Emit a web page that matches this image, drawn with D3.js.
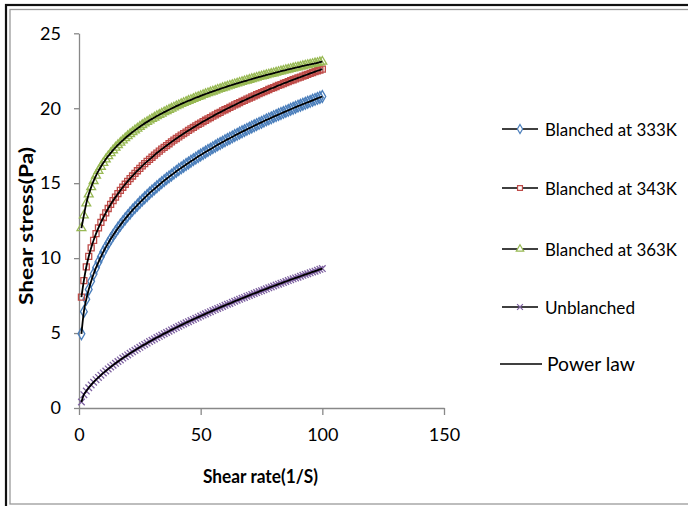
<!DOCTYPE html>
<html><head><meta charset="utf-8">
<script src="https://cdn.jsdelivr.net/npm/d3@7"></script>
<style>body{margin:0;background:#fff}svg{display:block}</style>
</head><body><svg id="c" width="688" height="506"></svg>
<script>
const shearRate = [1,2,3,4,5,6,7,8,9,10,11,12,13,14,15,16,17,18,19,20,21,22,23,24,25,26,27,28,29,30,31,32,33,34,35,36,37,38,39,40,41,42,43,44,45,46,47,48,49,50,51,52,53,54,55,56,57,58,59,60,61,62,63,64,65,66,67,68,69,70,71,72,73,74,75,76,77,78,79,80,81,82,83,84,85,86,87,88,89,90,91,92,93,94,95,96,97,98,99,100];
const blanched333 = [4.95,6.43,7.26,7.91,8.46,8.94,9.36,9.74,10.09,10.42,
10.72,11.00,11.27,11.52,11.76,11.99,12.21,12.42,12.63,12.82,
13.01,13.20,13.37,13.54,13.71,13.87,14.03,14.18,14.34,14.48,
14.62,14.76,14.90,15.04,15.17,15.30,15.42,15.54,15.67,15.79,
15.91,16.02,16.13,16.25,16.35,16.46,16.57,16.67,16.78,16.88,
16.98,17.08,17.18,17.27,17.37,17.46,17.56,17.65,17.74,17.83,
17.92,18.00,18.09,18.18,18.26,18.35,18.43,18.51,18.59,18.67,
18.75,18.83,18.91,18.99,19.06,19.14,19.22,19.29,19.36,19.44,
19.51,19.58,19.65,19.72,19.79,19.86,19.93,20.00,20.07,20.14,
20.20,20.27,20.33,20.40,20.46,20.53,20.59,20.66,20.72,20.78];
const blanched343 = [7.40,8.50,9.41,10.11,10.69,11.19,11.63,12.02,12.38,12.71,
13.02,13.31,13.58,13.83,14.07,14.30,14.52,14.73,14.93,15.12,
15.31,15.48,15.66,15.83,15.99,16.15,16.30,16.45,16.59,16.73,
16.87,17.01,17.14,17.27,17.39,17.51,17.63,17.75,17.87,17.98,
18.09,18.20,18.31,18.41,18.52,18.62,18.72,18.82,18.92,19.01,
19.11,19.20,19.29,19.38,19.47,19.56,19.65,19.73,19.82,19.90,
19.98,20.06,20.14,20.22,20.30,20.38,20.46,20.53,20.61,20.68,
20.75,20.83,20.90,20.97,21.04,21.11,21.18,21.25,21.32,21.38,
21.45,21.52,21.58,21.65,21.71,21.77,21.84,21.90,21.96,22.02,
22.08,22.14,22.20,22.26,22.32,22.38,22.44,22.50,22.55,22.61];
const blanched363 = [12.00,12.85,13.65,14.26,14.74,15.15,15.51,15.82,16.10,16.36,
16.59,16.81,17.01,17.20,17.38,17.55,17.71,17.86,18.01,18.15,
18.28,18.41,18.53,18.65,18.77,18.88,18.99,19.09,19.19,19.29,
19.38,19.48,19.57,19.65,19.74,19.82,19.90,19.98,20.06,20.14,
20.21,20.29,20.36,20.43,20.50,20.56,20.63,20.70,20.76,20.82,
20.89,20.95,21.01,21.07,21.12,21.18,21.24,21.29,21.35,21.40,
21.46,21.51,21.56,21.61,21.66,21.71,21.76,21.81,21.85,21.90,
21.95,21.99,22.04,22.09,22.13,22.17,22.22,22.26,22.30,22.34,
22.39,22.43,22.47,22.51,22.55,22.59,22.63,22.67,22.71,22.74,
22.78,22.82,22.86,22.89,22.93,22.96,23.00,23.03,23.07,23.11];
const unblanched = [0.40,0.89,1.13,1.35,1.54,1.72,1.89,2.04,2.19,2.34,
2.47,2.61,2.74,2.86,2.98,3.10,3.21,3.33,3.43,3.54,
3.65,3.75,3.85,3.95,4.05,4.15,4.24,4.33,4.43,4.52,
4.61,4.70,4.78,4.87,4.96,5.04,5.12,5.21,5.29,5.37,
5.45,5.53,5.61,5.69,5.76,5.84,5.91,5.99,6.06,6.14,
6.21,6.28,6.36,6.43,6.50,6.57,6.64,6.71,6.78,6.85,
6.92,6.98,7.05,7.12,7.19,7.25,7.32,7.38,7.45,7.51,
7.58,7.64,7.70,7.77,7.83,7.89,7.95,8.02,8.08,8.14,
8.20,8.26,8.32,8.38,8.44,8.50,8.56,8.62,8.68,8.73,
8.79,8.85,8.91,8.96,9.02,9.08,9.13,9.19,9.25,9.30];
const seriesNames = ["Blanched at 333K","Blanched at 343K","Blanched at 363K","Unblanched"];
const powerLawName = "Power law";
const xTicks = [0,50,100,150];
const yTicks = [0,5,10,15,20,25];
const xTitle = "Shear rate(1/S)";
const yTitle = "Shear stress(Pa)";

const seriesData = [blanched333, blanched343, blanched363, unblanched];
const colors = ["#4a7ebb","#be4b48","#98b954","#7d60a0"];
const symbols = [d3.symbolDiamond, d3.symbolSquare, d3.symbolTriangle, d3.symbolX || d3.symbolCross];
const symSizes = [40, 36, 34, 30];
const FONT = "Lato,Carlito,'Open Sans',sans-serif";

const svg = d3.select("#c");
svg.append("rect").attr("x",0).attr("y",0).attr("width",688).attr("height",506).attr("fill","#fff");
// outer black frame and inner gray frame
svg.append("rect").attr("x",6).attr("y",5).attr("width",700).attr("height",520)
  .attr("fill","none").attr("stroke","#111").attr("stroke-width",2.2);
svg.append("rect").attr("x",10).attr("y",9.5).attr("width",690).attr("height",494.5)
  .attr("fill","none").attr("stroke","#9a9a9a").attr("stroke-width",1.3);

const x = d3.scaleLinear().domain([0,150]).range([79,444]);
const y = d3.scaleLinear().domain([0,25]).range([408,33.3]);

const axisColor = "#888";
const gx = svg.append("g").attr("transform","translate(0,408)")
  .call(d3.axisBottom(x).tickValues(xTicks).tickSize(7).tickSizeOuter(0).tickPadding(13));
const gy = svg.append("g").attr("transform","translate(79,0)")
  .call(d3.axisLeft(y).tickValues(yTicks).tickSize(5).tickSizeOuter(0).tickPadding(13));
[gx,gy].forEach(g=>{
  g.select(".domain").attr("stroke",axisColor).attr("stroke-width",1.3);
  g.selectAll(".tick line").attr("stroke",axisColor).attr("stroke-width",1.3);
  g.selectAll(".tick text").attr("fill","#000").style("font-family",FONT).style("font-size","18px");
});

// markers
seriesData.forEach((vals,i)=>{
  const sym = d3.symbol().type(symbols[i]).size(symSizes[i]);
  svg.append("g").selectAll("path").data(vals).join("path")
    .attr("d", sym)
    .attr("transform",(d,j)=>`translate(${x(shearRate[j])},${y(d)})`)
    .attr("fill","none").attr("stroke",colors[i]).attr("stroke-width",1.3);
});
// power-law / series lines
const line = d3.line().x((d,j)=>x(shearRate[j])).y(d=>y(d)).curve(d3.curveMonotoneX);
seriesData.forEach(vals=>{
  svg.append("path").datum(vals).attr("d",line)
    .attr("fill","none").attr("stroke","#000").attr("stroke-width",1.8);
});

// axis titles
svg.append("text").attr("x",260.5).attr("y",483).attr("text-anchor","middle")
  .style("font-family",FONT).style("font-size","18px").style("font-weight","bold")
  .attr("textLength",115).attr("lengthAdjust","spacingAndGlyphs").text(xTitle);
svg.append("text").attr("transform","translate(33,226) rotate(-90)").attr("text-anchor","middle")
  .style("font-family",FONT).style("font-size","18px").style("font-weight","bold")
  .attr("textLength",158).attr("lengthAdjust","spacingAndGlyphs").text(yTitle);

// legend
const legY = [129,188,249,307];
const legW = [132,132,132,90];
seriesData.forEach((vals,i)=>{
  const g = svg.append("g");
  g.append("line").attr("x1",502).attr("x2",538).attr("y1",legY[i]).attr("y2",legY[i])
    .attr("stroke","#000").attr("stroke-width",1.7);
  g.append("path").attr("d",d3.symbol().type(symbols[i]).size(24))
    .attr("transform",`translate(520,${legY[i]})`)
    .attr("fill","#fff").attr("stroke",colors[i]).attr("stroke-width",1.2);
  g.append("text").attr("x",545).attr("y",legY[i]+6.5)
    .style("font-family",FONT).style("font-size","18px")
    .attr("textLength",legW[i]).attr("lengthAdjust","spacingAndGlyphs").text(seriesNames[i]);
});
svg.append("line").attr("x1",500).attr("x2",542).attr("y1",364).attr("y2",364)
  .attr("stroke","#000").attr("stroke-width",1.7);
svg.append("text").attr("x",547).attr("y",371)
  .style("font-family",FONT).style("font-size","20px")
  .attr("textLength",88).attr("lengthAdjust","spacingAndGlyphs").text(powerLawName);
</script></body></html>
